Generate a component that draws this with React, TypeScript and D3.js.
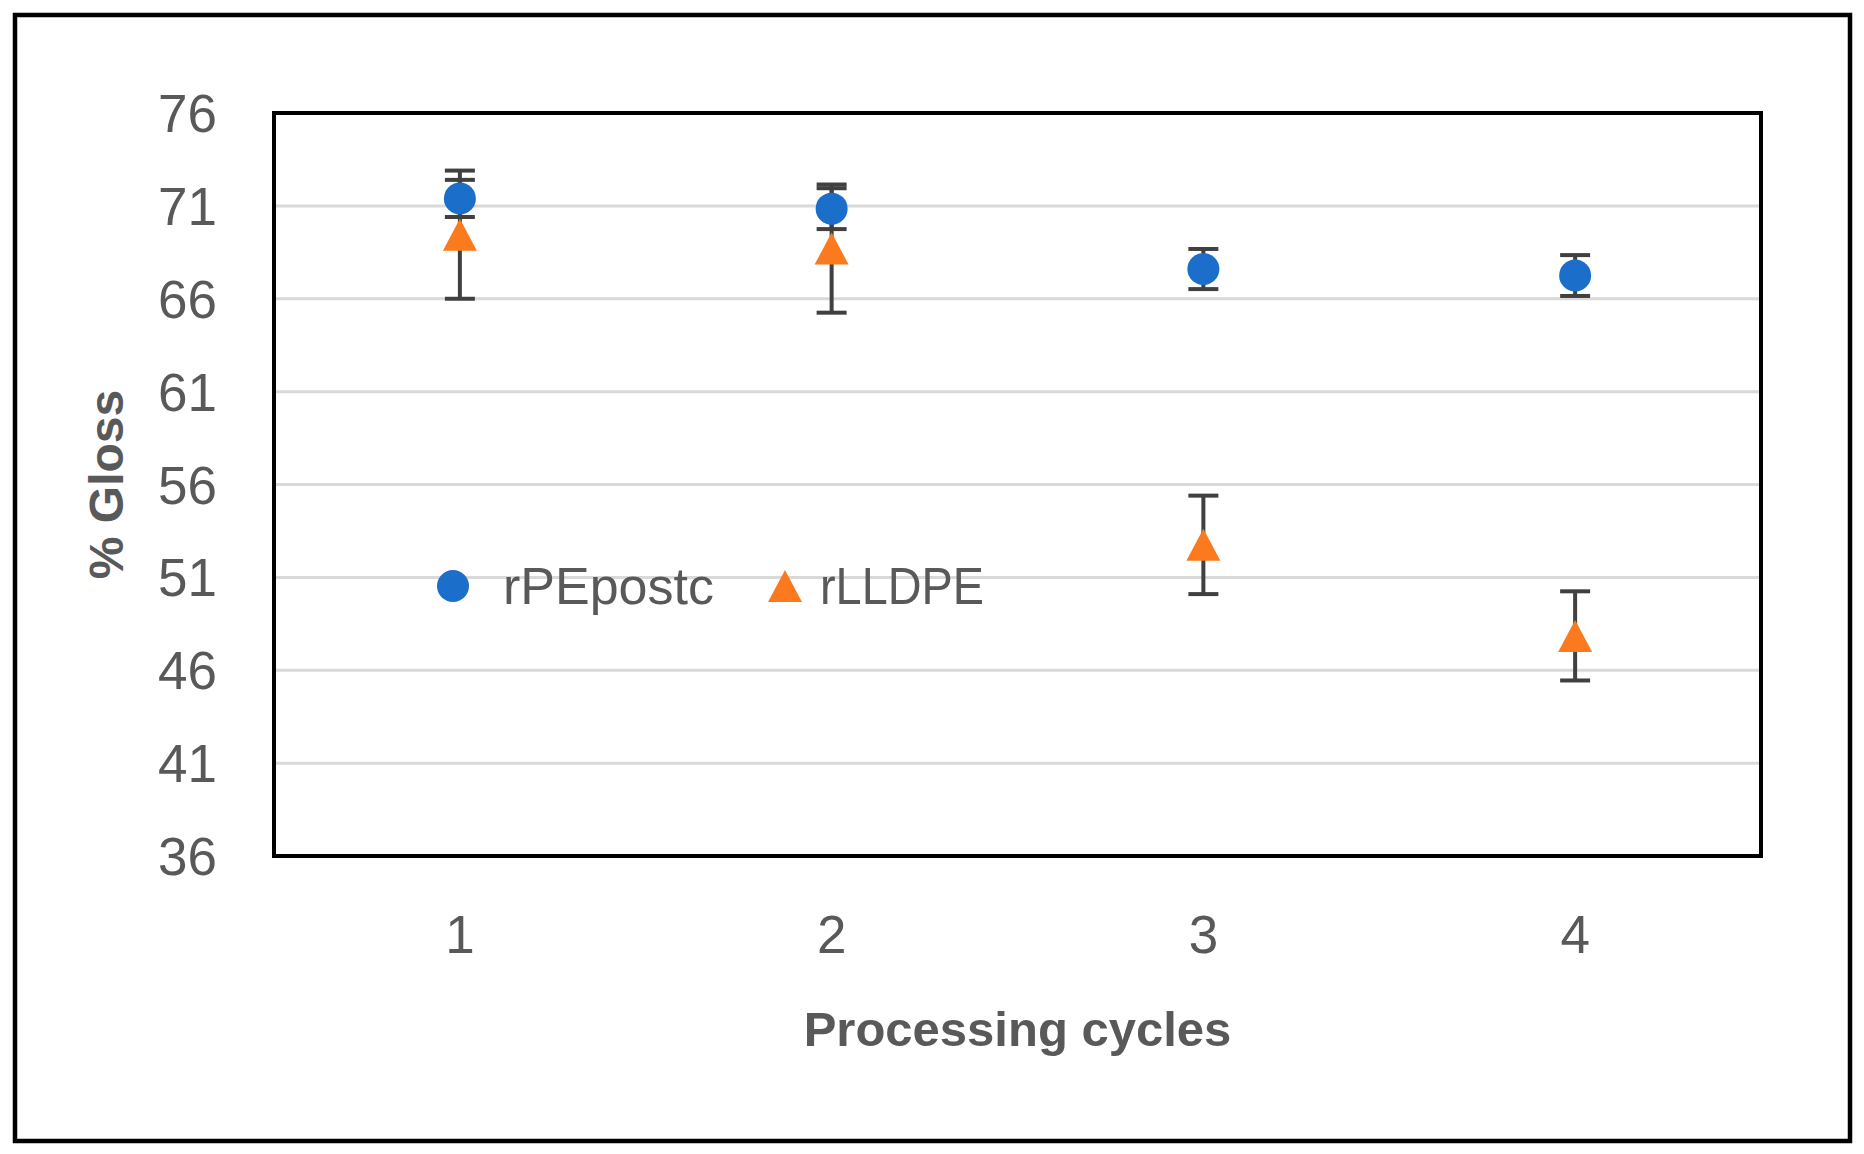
import React from "react";
import * as d3 from "d3";

// Data
const cycles = ["1", "2", "3", "4"];
const yTicks = [36, 41, 46, 51, 56, 61, 66, 71, 76];

const rPEpostcMean = [71.4, 70.85, 67.6, 67.25];
const rPEpostcErr = [1.0, 1.1, 1.08, 1.1];

const rLLDPEMean = [69.45, 68.7, 52.75, 47.85];
const rLLDPEErr = [3.45, 3.45, 2.65, 2.4];

const seriesNames = ["rPEpostc", "rLLDPE"];

const WIDTH = 1864;
const HEIGHT = 1154;
const PLOT_LEFT = 274;
const PLOT_RIGHT = 1761;
const PLOT_TOP = 113;
const PLOT_BOTTOM = 856;

const BLUE = "#1b6fca";
const ORANGE = "#fb7a1e";
const TEXT = "#595959";
const ERR = "#404040";
const FONT = "'Liberation Sans', Arial, sans-serif";

const CIRCLE_R = 16;
const TRI_W = 34;
const TRI_H = 32;
const CAP_W = 30;

function trianglePath(cx: number, cy: number) {
  const p = d3.path();
  p.moveTo(cx, cy - TRI_H / 2);
  p.lineTo(cx + TRI_W / 2, cy + TRI_H / 2);
  p.lineTo(cx - TRI_W / 2, cy + TRI_H / 2);
  p.closePath();
  return p.toString();
}

export default function App() {
  const x = d3
    .scaleBand<string>()
    .domain(cycles)
    .range([PLOT_LEFT, PLOT_RIGHT]);
  const y = d3
    .scaleLinear()
    .domain([36, 76])
    .range([PLOT_BOTTOM, PLOT_TOP]);

  const cx = (c: string) => x(c)! + x.bandwidth() / 2;

  const errorBars = [
    ...cycles.map((c, i) => ({ c, mean: rPEpostcMean[i], err: rPEpostcErr[i] })),
    ...cycles.map((c, i) => ({ c, mean: rLLDPEMean[i], err: rLLDPEErr[i] })),
  ];

  return (
    <div style={{ position: "absolute", left: 0, top: 0 }}>
      <svg width={WIDTH} height={HEIGHT} style={{ display: "block", background: "white" }}>
        {/* outer frame */}
        <rect x={15} y={15} width={1835} height={1126} fill="white" stroke="black" strokeWidth={4.5} />

        {/* gridlines */}
        <g>
          {yTicks
            .filter((t) => t > 36 && t < 76)
            .map((t) => (
              <line
                key={t}
                x1={PLOT_LEFT}
                x2={PLOT_RIGHT}
                y1={y(t)}
                y2={y(t)}
                stroke="#d9d9d9"
                strokeWidth={3}
              />
            ))}
        </g>

        {/* y tick labels */}
        <g fontFamily={FONT} fontSize={53} fill={TEXT} textAnchor="end">
          {yTicks.map((t) => (
            <text key={t} x={217} y={y(t)} dy="0.36em">
              {t}
            </text>
          ))}
        </g>

        {/* x tick labels */}
        <g fontFamily={FONT} fontSize={53} fill={TEXT} textAnchor="middle">
          {cycles.map((c) => (
            <text key={c} x={cx(c)} y={953}>
              {c}
            </text>
          ))}
        </g>

        {/* error bars */}
        <g stroke={ERR} strokeWidth={4}>
          {errorBars.map((d, i) => (
            <g key={i}>
              <line x1={cx(d.c)} x2={cx(d.c)} y1={y(d.mean - d.err)} y2={y(d.mean + d.err)} />
              <line
                x1={cx(d.c) - CAP_W / 2}
                x2={cx(d.c) + CAP_W / 2}
                y1={y(d.mean - d.err)}
                y2={y(d.mean - d.err)}
              />
              <line
                x1={cx(d.c) - CAP_W / 2}
                x2={cx(d.c) + CAP_W / 2}
                y1={y(d.mean + d.err)}
                y2={y(d.mean + d.err)}
              />
            </g>
          ))}
        </g>

        {/* markers */}
        <g fill={ORANGE}>
          {cycles.map((c, i) => (
            <path key={c} d={trianglePath(cx(c), y(rLLDPEMean[i]))} />
          ))}
        </g>
        <g fill={BLUE}>
          {cycles.map((c, i) => (
            <circle key={c} cx={cx(c)} cy={y(rPEpostcMean[i])} r={CIRCLE_R} />
          ))}
        </g>

        {/* plot border */}
        <rect
          x={PLOT_LEFT}
          y={PLOT_TOP}
          width={PLOT_RIGHT - PLOT_LEFT}
          height={PLOT_BOTTOM - PLOT_TOP}
          fill="none"
          stroke="black"
          strokeWidth={4}
        />

        {/* legend */}
        <g fontFamily={FONT} fontSize={52} fill={TEXT}>
          <circle cx={453} cy={586} r={CIRCLE_R} fill={BLUE} />
          <text x={503} y={604}>
            {seriesNames[0]}
          </text>
          <path d={trianglePath(785, 586)} fill={ORANGE} />
          <text x={820} y={604} textLength={164} lengthAdjust="spacingAndGlyphs">
            {seriesNames[1]}
          </text>
        </g>

        {/* axis titles */}
        <text
          x={(PLOT_LEFT + PLOT_RIGHT) / 2}
          y={1046}
          textAnchor="middle"
          fontFamily={FONT}
          fontSize={49}
          fontWeight="bold"
          fill={TEXT}
        >
          Processing cycles
        </text>
        <text
          transform={`translate(123, ${(PLOT_TOP + PLOT_BOTTOM) / 2}) rotate(-90)`}
          textAnchor="middle"
          fontFamily={FONT}
          fontSize={48}
          fontWeight="bold"
          fill={TEXT}
        >
          % Gloss
        </text>
      </svg>
    </div>
  );
}
